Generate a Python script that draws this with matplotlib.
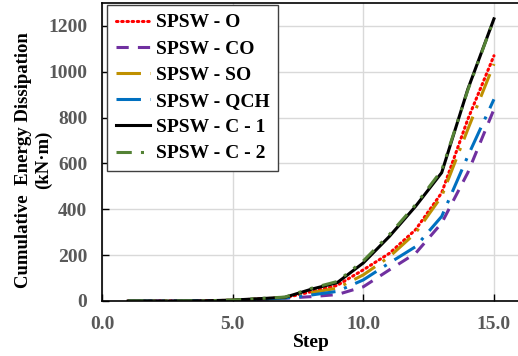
import matplotlib
matplotlib.use("Agg")
import matplotlib.pyplot as plt

# Data
steps = [1, 2, 3, 4, 5, 6, 7, 8, 9, 10, 11, 12, 13, 14, 15]
spsw_o = [0, 0, 0, 1, 3, 9, 14, 40, 68, 136, 208, 311, 472, 793, 1070]
spsw_co = [0, 0, 0, 1, 2, 7, 12, 19, 28, 62, 136, 208, 340, 560, 836]
spsw_so = [0, 0, 0, 1, 3, 9, 14, 36, 56, 114, 193, 297, 457, 749, 1034]
spsw_qch = [0, 0, 0, 1, 2, 8, 13, 26, 42, 92, 166, 237, 369, 632, 880]
spsw_c1 = [0, 0, 0, 1, 4, 10, 16, 51, 80, 166, 282, 413, 560, 924, 1231]
spsw_c2 = [0, 0, 0, 1, 4, 11, 17, 55, 85, 175, 290, 420, 570, 920, 1230]

labels = ["SPSW - O", "SPSW - CO", "SPSW - SO", "SPSW - QCH", "SPSW - C - 1", "SPSW - C - 2"]
series = [spsw_o, spsw_co, spsw_so, spsw_qch, spsw_c1, spsw_c2]
colors = ["#FF0000", "#7030A0", "#BF9000", "#0070C0", "#000000", "#548235"]
dashes = [(0.5, 1.2), (4, 3), (8, 3, 1, 3), (8, 3, 1, 3), None, (5, 3, 1, 3, 1, 3)]

plt.rcParams["font.family"] = ["Liberation Serif", "DejaVu Serif"]
plt.rcParams["font.weight"] = "bold"

fig = plt.figure(figsize=(5.18, 3.56), dpi=100)
ax = fig.add_axes([0.197, 0.1545, 0.807, 0.837])

for vals, lab, col, dsh in zip(series, labels, colors, dashes):
    line, = ax.plot(steps, vals, color=col, lw=2.2, label=lab)
    if dsh is not None:
        line.set_dashes(dsh)
        if dsh[0] < 1:
            line.set_dash_capstyle("round")

ax.set_xlim(0, 16)
ax.set_ylim(0, 1300)
ax.set_xticks([0, 5, 10, 15])
ax.set_xticklabels(["0.0", "5.0", "10.0", "15.0"])
ax.set_yticks(range(0, 1201, 200))
ax.grid(True, color="#D9D9D9", lw=1)
ax.set_axisbelow(True)
ax.tick_params(direction="in", length=5, width=1, colors="#000000",
               labelcolor="#595959", labelsize=14, pad=10.5)
for s in ax.spines.values():
    s.set_color("#000000")
    s.set_linewidth(1.2)

ax.set_xlabel("Step", fontsize=14, fontweight="bold", labelpad=1)
fig.text(0.064, 0.55, "Cumulative  Energy Dissipation\n(kN·m)", rotation=90,
         ha="center", va="center", fontsize=13.5, fontweight="bold",
         multialignment="center")

leg = ax.legend(loc="upper left", bbox_to_anchor=(0.012, 0.993), borderaxespad=0,
                fontsize=14, handlelength=1.75, handletextpad=0.3,
                labelspacing=0.44, borderpad=0.45, fancybox=False, framealpha=1,
                edgecolor="#404040")
leg.get_frame().set_linewidth(1)

fig.savefig("out.png", dpi=100)
